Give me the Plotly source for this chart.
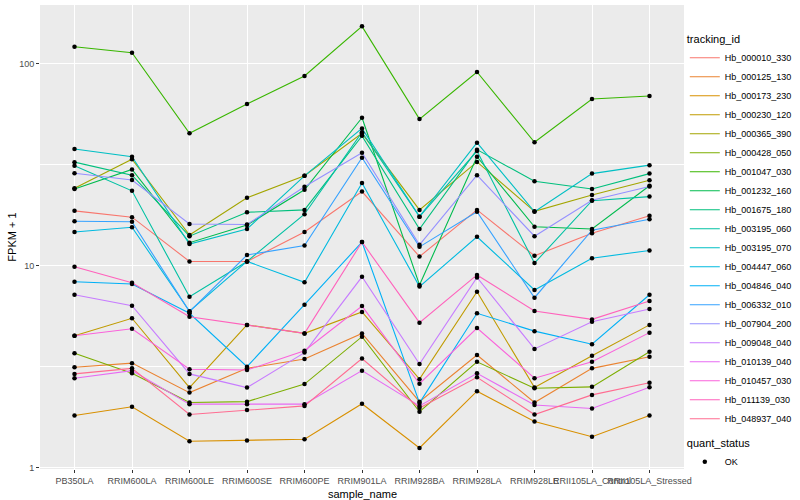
import plotly.graph_objects as go
import math

samples = ["PB350LA", "RRIM600LA", "RRIM600LE", "RRIM600SE", "RRIM600PE", "RRIM901LA",
           "RRIM928BA", "RRIM928LA", "RRIM928LE", "RRII105LA_Control", "RRII105LA_Stressed"]

tracking_ids = ["Hb_000010_330", "Hb_000125_130", "Hb_000173_230", "Hb_000230_120", "Hb_000365_390",
                "Hb_000428_050", "Hb_001047_030", "Hb_001232_160", "Hb_001675_180", "Hb_003195_060",
                "Hb_003195_070", "Hb_004447_060", "Hb_004846_040", "Hb_006332_010", "Hb_007904_200",
                "Hb_009048_040", "Hb_010139_040", "Hb_010457_030", "Hb_011139_030", "Hb_048937_040"]

colors = ["#F8766D", "#EA8331", "#D89000", "#C09B00", "#A3A500", "#7CAE00", "#39B600", "#00BB4E",
          "#00BF7D", "#00C1A3", "#00BFC4", "#00BAE0", "#00B0F6", "#35A2FF", "#9590FF", "#C77CFF",
          "#E76BF3", "#FA62DB", "#FF62BC", "#FF6C91"]

hb_000010_330 = [18.7, 17.4, 10.5, 10.5, 14.7, 23.3, 11.1, 18.9, 11.2, 14.5, 17.7]
hb_000125_130 = [3.14, 3.29, 2.35, 3.10, 3.45, 4.62, 2.12, 3.61, 2.10, 3.10, 3.54]
hb_000173_230 = [1.81, 2.00, 1.35, 1.36, 1.38, 2.07, 1.25, 2.39, 1.69, 1.42, 1.81]
hb_000230_120 = [4.50, 5.49, 2.49, 5.09, 4.62, 5.90, 2.74, 7.43, 2.49, 3.58, 5.09]
hb_000365_390 = [24.2, 33.7, 14.2, 21.7, 27.9, 45.3, 18.9, 32.7, 18.6, 22.4, 26.5]
hb_000428_050 = [3.68, 2.93, 2.10, 2.12, 2.59, 4.45, 1.89, 3.34, 2.47, 2.51, 3.75]
hb_001047_030 = [121.7, 113.6, 45.3, 63.3, 87.1, 153.5, 53.3, 91.2, 40.9, 67.0, 69.3]
hb_001232_160 = [24.0, 30.0, 13.0, 15.9, 23.8, 54.1, 8.03, 34.7, 15.6, 15.2, 24.9]
hb_001675_180 = [32.6, 28.1, 14.0, 18.4, 18.9, 44.0, 15.2, 37.6, 26.2, 24.0, 28.6]
hb_003195_060 = [31.3, 23.5, 7.02, 10.5, 18.0, 45.9, 17.5, 37.0, 10.3, 21.0, 22.0]
hb_003195_070 = [37.9, 34.7, 12.8, 15.2, 27.9, 47.9, 17.5, 40.7, 18.5, 28.6, 31.5]
hb_004447_060 = [14.7, 15.5, 5.95, 10.5, 8.27, 25.7, 7.88, 13.9, 7.58, 10.9, 11.9]
hb_004846_040 = [8.33, 8.12, 5.81, 3.16, 6.41, 13.1, 2.09, 5.81, 4.74, 4.08, 7.18]
hb_006332_010 = [16.6, 16.5, 5.92, 11.3, 12.6, 34.3, 12.4, 18.5, 6.94, 15.0, 17.0]
hb_007904_200 = [28.7, 26.6, 16.1, 16.0, 24.6, 36.3, 12.7, 28.1, 14.0, 21.1, 24.7]
hb_009048_040 = [7.18, 6.34, 2.91, 2.49, 3.71, 8.81, 3.26, 8.74, 3.87, 5.28, 6.10]
hb_010139_040 = [2.77, 3.02, 2.06, 2.06, 2.06, 3.02, 2.02, 2.93, 2.04, 1.96, 2.50]
hb_010457_030 = [4.50, 4.87, 3.07, 3.04, 3.79, 6.31, 2.60, 4.91, 2.77, 3.34, 4.66]
hb_011139_030 = [9.89, 8.24, 5.59, 5.09, 4.62, 13.1, 5.22, 9.00, 5.97, 5.42, 6.69]
hb_048937_040 = [2.91, 3.10, 1.83, 1.93, 2.02, 3.47, 1.97, 2.80, 1.83, 2.29, 2.63]

series = [hb_000010_330, hb_000125_130, hb_000173_230, hb_000230_120, hb_000365_390,
          hb_000428_050, hb_001047_030, hb_001232_160, hb_001675_180, hb_003195_060,
          hb_003195_070, hb_004447_060, hb_004846_040, hb_006332_010, hb_007904_200,
          hb_009048_040, hb_010139_040, hb_010457_030, hb_011139_030, hb_048937_040]

y_ticks = [1, 10, 100]
y_tick_labels = ["1", "10", "100"]

FONT = "Liberation Sans, Arial, sans-serif"

fig = go.Figure()
for name, col, vals in zip(tracking_ids, colors, series):
    fig.add_trace(go.Scatter(x=samples, y=vals, mode="lines", name=name,
                             line=dict(color=col, width=1.1), legend="legend"))

all_x = [s for vals in series for s in samples]
all_y = [v for vals in series for v in vals]
fig.add_trace(go.Scatter(x=all_x, y=all_y, mode="markers", name="OK",
                         marker=dict(color="black", size=4.5, symbol="circle"),
                         legend="legend2"))

fig.update_layout(
    width=800, height=500,
    margin=dict(l=40, r=116, t=5, b=31, autoexpand=False),
    paper_bgcolor="white", plot_bgcolor="#EBEBEB",
    font=dict(family=FONT, size=9, color="#1A1A1A"),
    showlegend=True,
    legend=dict(title=dict(text="tracking_id", font=dict(size=11, color="black")),
                xref="container", yref="container",
                x=0.856, xanchor="left", y=0.942, yanchor="top",
                font=dict(size=9, color="black"), bgcolor="white",
                tracegroupgap=0, itemwidth=30, maxheight=480),
    legend2=dict(title=dict(text="quant_status", font=dict(size=11, color="black")),
                 xref="container", yref="container",
                 x=0.856, xanchor="left", y=0.134, yanchor="top",
                 font=dict(size=9, color="black"), bgcolor="white", itemwidth=30,
                 maxheight=100),
    xaxis=dict(type="category", range=[-0.6, 10.6], tickangle=0,
               showgrid=True, gridcolor="white", gridwidth=1.1,
               ticks="outside", ticklen=3, tickcolor="#333333", tickwidth=1,
               tickfont=dict(size=9, color="#4D4D4D"), zeroline=False, showline=False),
    yaxis=dict(type="log", range=[math.log10(0.983), 2.292],
               tickvals=y_ticks, ticktext=y_tick_labels,
               showgrid=True, gridcolor="white", gridwidth=1.1,
               minor=dict(tickvals=[10 ** 0.5, 10 ** 1.5], showgrid=True,
                          gridcolor="white", gridwidth=0.5, ticks=""),
               ticks="outside", ticklen=3, tickcolor="#333333", tickwidth=1,
               tickfont=dict(size=9, color="#4D4D4D"), zeroline=False, showline=False),
    annotations=[
        dict(text="sample_name", xref="paper", yref="paper", x=0.5, y=-0.053,
             xanchor="center", yanchor="middle", showarrow=False,
             font=dict(size=11, color="black")),
        dict(text="FPKM + 1", xref="paper", yref="paper", x=-0.044, y=0.5,
             xanchor="center", yanchor="middle", textangle=-90, showarrow=False,
             font=dict(size=11, color="black")),
    ],
)

fig.write_html("out.html", config={"displayModeBar": False},
               post_script="document.body.style.margin='0px';document.body.style.padding='0px';")
